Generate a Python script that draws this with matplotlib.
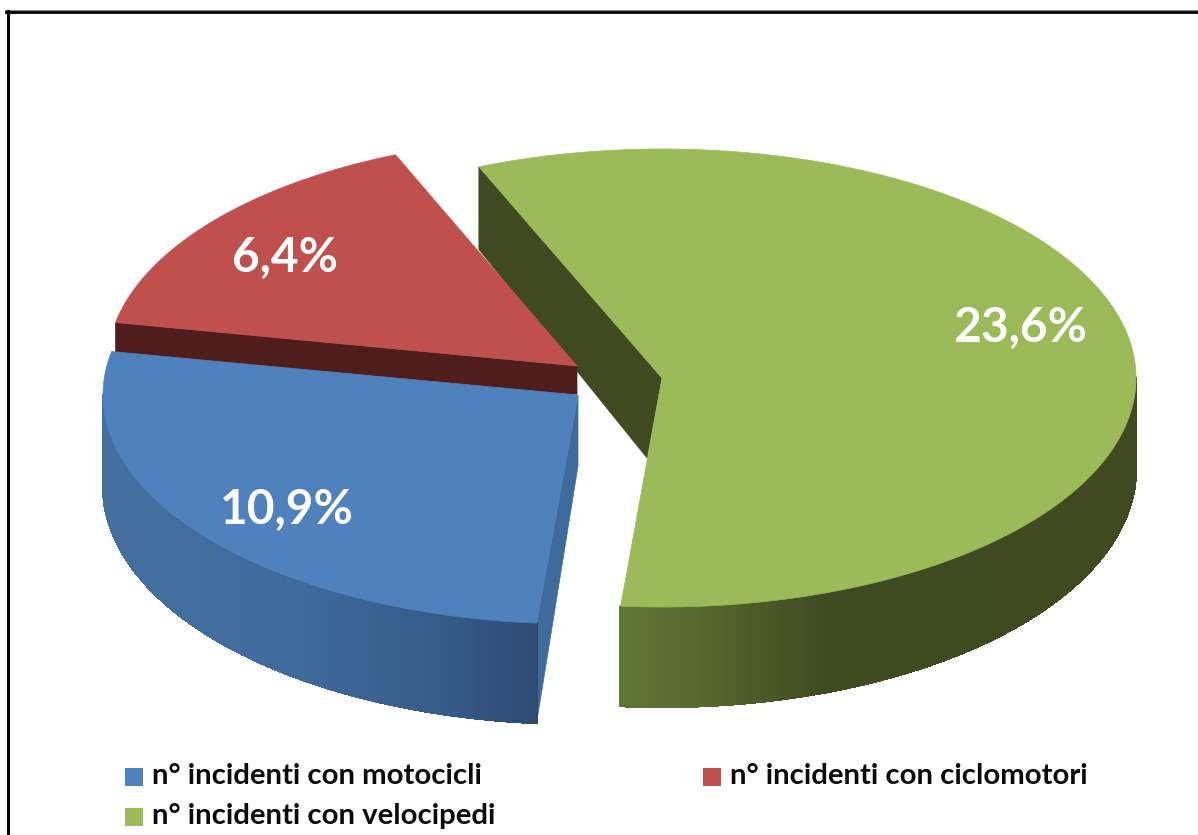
import numpy as np
import matplotlib
matplotlib.use("Agg")
import matplotlib.pyplot as plt
from matplotlib.colors import to_rgb

# Dataset
categories = ["n° incidenti con motocicli", "n° incidenti con ciclomotori", "n° incidenti con velocipedi"]
values = [10.9, 6.4, 23.6]
labels = ["10,9%", "6,4%", "23,6%"]

plt.rcParams['font.family'] = ['Lato', 'DejaVu Sans']

fig = plt.figure(figsize=(11.98, 8.35), dpi=100)
ax = fig.add_axes([0, 0, 1, 1])
ax.set_xlim(0, 1198)
ax.set_ylim(835, 0)
ax.axis('off')

# Pie geometry, in pixels of the picture
start = 95.0
sweep = 360 * np.array(values) / sum(values)
ends = start + np.cumsum(sweep)
starts = ends - sweep

top_colors = ['#4F81BD', '#C0504D', '#9BBB59']
centers = [(578, 395), (577, 366), (662, 378)]
radii = [475, 470, 474]
b = 229
wall_b = 238
wall_drop = 91
apex_drop = [(0, 71), (0, 28), (-15, 80)]
inner_colors = ['#3F6A9C', '#4F1E1C', '#3F4A21']


def arc(i, t1, t2, bottom=False):
    t = np.radians(np.linspace(t1, t2, 300))
    cx, cy = centers[i]
    if bottom:
        return cx + radii[i]*np.cos(t), cy + wall_drop + wall_b*np.sin(t)
    return cx + radii[i]*np.cos(t), cy + b*np.sin(t)


def outer_wall(i, t1, t2, stops):
    # narrow strips so the side of the pie gets its shading
    xt, yt = arc(i, t1, t2)
    xb, yb = arc(i, t1, t2, bottom=True)
    stop_x = [s[0] for s in stops]
    rgb = np.array([to_rgb(s[1]) for s in stops])
    for k in range(len(xt) - 1):
        c = [np.interp(xt[k], stop_x, rgb[:, n]) for n in range(3)]
        ax.fill([xt[k], xt[k+1], xb[k+1], xb[k]], [yt[k], yt[k+1], yb[k+1], yb[k]],
                color=c, lw=1, antialiased=False, zorder=2)


def inner_wall(i, t):
    cx, cy = centers[i]
    ex, ey = arc(i, t, t)
    ex2, ey2 = arc(i, t, t, bottom=True)
    dx, dy = apex_drop[i]
    ax.fill([cx, ex[0], ex2[0], cx + dx], [cy, ey[0], ey2[0], cy + dy],
            color=inner_colors[i], lw=0.5, zorder=1)


# Green slice
inner_wall(2, starts[2])
outer_wall(2, 360, ends[2], [(621, '#607538'), (700, '#56682F'), (830, '#3E4A20'), (1136, '#3F4A21')])

# Blue slice
inner_wall(0, starts[0])
outer_wall(0, starts[0], 180, [(103, '#44709F'), (300, '#3F6A9C'), (450, '#355A87'), (537, '#2D4A72')])

# Red wall sits behind the blue top face
inner_wall(1, starts[1])

for i in range(3):
    x, y = arc(i, starts[i], ends[i])
    cx, cy = centers[i]
    ax.fill(np.r_[cx, x], np.r_[cy, y], color=top_colors[i], lw=0.5, zorder=3)

# Data labels
label_pos = [(287, 509), (285, 257), (1020, 327)]
for lab, (lx, ly) in zip(labels, label_pos):
    ax.text(lx, ly, lab, color='white', fontsize=34.5, fontweight='bold',
            ha='center', va='center', zorder=5)

# Legend
legend_pos = [(125, 777), (703, 777), (125, 817)]
for name, col, (lx, ly) in zip(categories, top_colors, legend_pos):
    ax.fill([lx, lx+18, lx+18, lx], [ly-9, ly-9, ly+9, ly+9], color=col, lw=0, zorder=4)
    ax.text(lx + 27, ly - 1, name, color='#0A0A0A', fontsize=21.2, fontweight='bold',
            ha='left', va='center', zorder=5)

# Frame, only top and left reach the picture
ax.plot([6, 1198], [10.5, 10.5], color='#777777', lw=1.2, zorder=6)
ax.plot([6, 1198], [12, 12], color='black', lw=2, zorder=6)
ax.plot([7.5, 7.5], [11, 835], color='black', lw=2.2, zorder=6)

fig.savefig("out.png", dpi=100)
